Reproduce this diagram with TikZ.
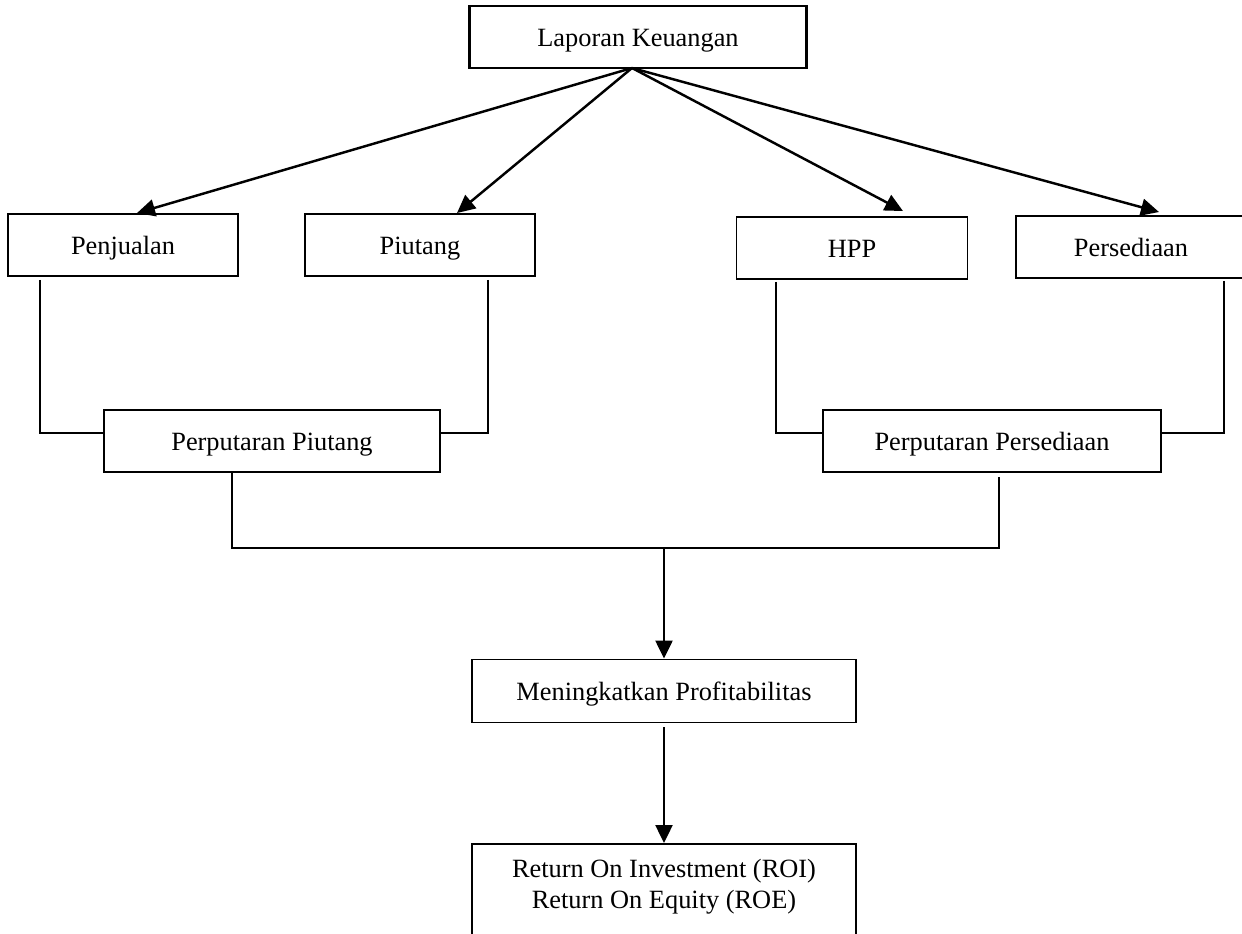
\documentclass[tikz,border=0pt]{standalone}
\usepackage{fontspec}
\setmainfont{Liberation Serif}
\usepackage{tikz}
\usetikzlibrary{positioning, arrows.meta}

\begin{document}
\begin{tikzpicture}[
    box/.style={rectangle, draw, line width=1.1pt, minimum height=1.24cm, font=\fontsize{15}{18}\selectfont},
    cell/.style={box, text height=0.46cm, text depth=0.08cm},
    link/.style={line width=1.1pt},
    flow/.style={-{Triangle[length=0.36cm, width=0.34cm]}, line width=1.4pt}
]

\useasboundingbox (0, 0) rectangle (24.84, -18.68);

\node[cell, minimum width=6.74cm, line width=1.5pt] (laporan) at (12.76, -0.74) {Laporan Keuangan};

\node[cell, minimum width=4.6cm] (penjualan) at (2.46, -4.9) {Penjualan};
\node[cell, minimum width=4.6cm] (piutang) at (8.4, -4.9) {Piutang};
\node[cell, minimum width=4.62cm] (hpp) at (17.04, -4.96) {HPP};
\node[cell, minimum width=4.6cm] (persediaan) at (22.62, -4.94) {Persediaan};

\node[cell, minimum width=6.72cm] (putpiutang) at (5.44, -8.82) {Perputaran Piutang};
\node[cell, minimum width=6.76cm] (putsedia) at (19.84, -8.82) {Perputaran Persediaan};

\node[cell, minimum width=7.68cm, minimum height=1.26cm] (profit) at (13.28, -13.82) {Meningkatkan Profitabilitas};
\node[box, minimum width=7.68cm, anchor=north, align=center, inner ysep=0.3cm, text depth=1.4cm] (roi) at (13.28, -16.86) {Return On Investment (ROI)\\Return On Equity (ROE)};

\coordinate (src) at (12.64, -1.36);

\draw[flow] (src) -- ([xshift=0.28cm]penjualan.north);
\draw[flow] (src) -- ([xshift=0.74cm]piutang.north);
\draw[flow] (src) -- ([xshift=1.02cm, yshift=0.1cm]hpp.north);
\draw[flow] (src) -- ([xshift=0.56cm, yshift=0.06cm]persediaan.north);

\draw[link] ([xshift=-1.66cm, yshift=-0.06cm]penjualan.south) |- ([yshift=0.16cm]putpiutang.west);
\draw[link] ([xshift=1.36cm, yshift=-0.06cm]piutang.south) |- ([yshift=0.16cm]putpiutang.east);
\draw[link] ([xshift=-1.52cm, yshift=-0.04cm]hpp.south) |- ([yshift=0.16cm]putsedia.west);
\draw[link] ([xshift=1.86cm, yshift=-0.04cm]persediaan.south) |- ([yshift=0.16cm]putsedia.east);

\draw[link] ([xshift=-0.8cm]putpiutang.south) -- ++(0, -1.5) coordinate (join) -| ([xshift=0.14cm, yshift=-0.08cm]putsedia.south);

\draw[flow] (join -| profit.north) -- (profit.north);
\draw[flow] ([yshift=-0.08cm]profit.south) -- (roi.north);

\end{tikzpicture}
\end{document}
